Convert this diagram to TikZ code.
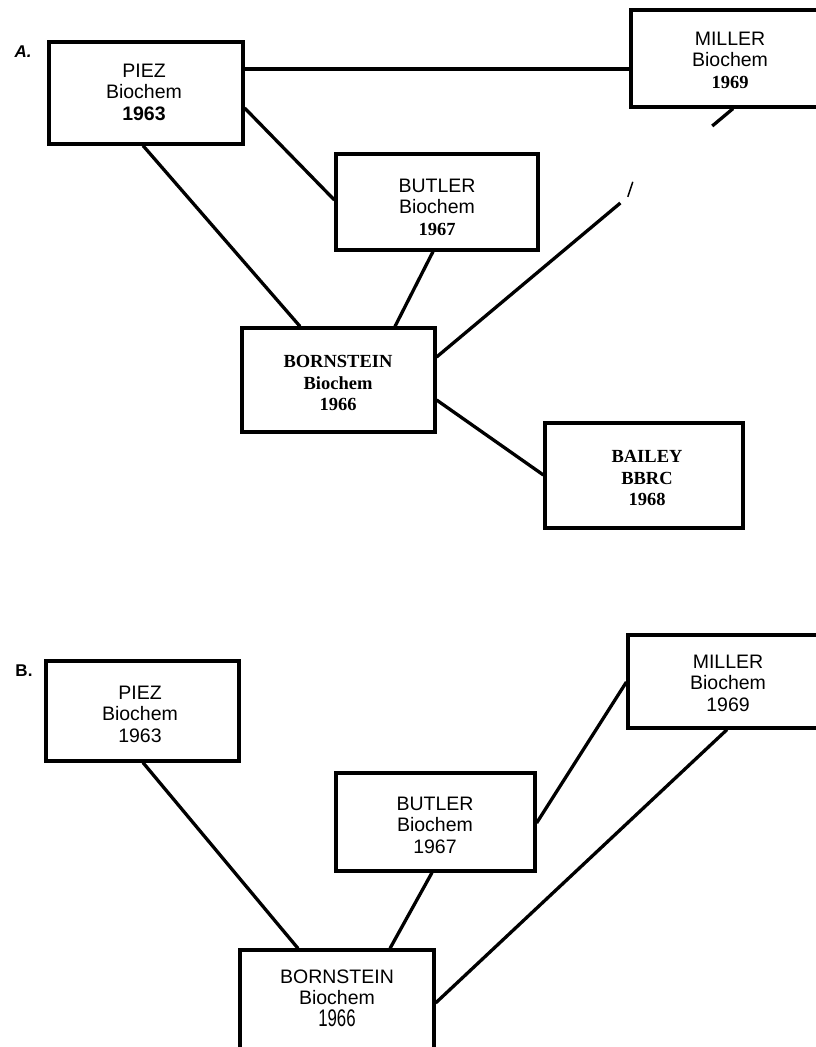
\documentclass[tikz,border=0pt]{standalone}
\usepackage{fontspec}
\setmainfont{Liberation Serif}
\setsansfont{Liberation Sans}
\usepackage{graphicx}
\usetikzlibrary{calc}
\tikzset{
  box/.style={draw, line width=3.2pt, inner sep=0pt},
  conn/.style={line width=3.3pt},
  txt/.style={align=center, inner sep=0pt, font=\sffamily\fontsize{19.5}{21.5}\selectfont},
  txtb/.style={align=center, inner sep=0pt, font=\rmfamily\bfseries\fontsize{18.5}{21.5}\selectfont},
  panel/.style={inner sep=0pt, font=\sffamily\bfseries\fontsize{17}{17}\selectfont},
}
\begin{document}
\begin{tikzpicture}[x=1pt,y=-1pt]
\useasboundingbox (0,0) rectangle (816,1047);
\clip (0,0) rectangle (816,1047);

% ---------- Panel A ----------
\node[panel] (labA) at (23,52) {\itshape A.};
\node[box, minimum width=194, minimum height=102] (piezA) at (146,93) {};
\node[txt] (piezAt) at (144,92) {PIEZ\\Biochem\\\textbf{1963}};
\node[box, minimum width=198, minimum height=97] (millerA) at (730,58.5) {};
\node[txt] (millerAt) at (730,60) {MILLER\\Biochem\\{\rmfamily\bfseries\fontsize{18.5}{21.5}\selectfont 1969}};
\node[box, minimum width=202, minimum height=96] (butlerA) at (437,202) {};
\node[txt] (butlerAt) at (437,207) {BUTLER\\Biochem\\{\rmfamily\bfseries\fontsize{18.5}{21.5}\selectfont 1967}};
\node[box, minimum width=193, minimum height=104] (bornA) at (338.5,380) {};
\node[txtb] (bornAt) at (338,383) {BORNSTEIN\\Biochem\\1966};
\node[box, minimum width=198, minimum height=105] (baileyA) at (644,475.5) {};
\node[txtb] (baileyAt) at (647,478) {BAILEY\\BBRC\\1968};

\draw[conn] (piezA.east |- 0,69) -- (millerA.west |- 0,69);
\draw[conn] (piezA.east |- 0,108) -- (butlerA.west |- 0,200);
\draw[conn] (piezA.south -| 143,0) -- (bornA.north -| 300,0);
\draw[conn] (butlerA.south -| 433,0) -- (bornA.north -| 395,0);
\coordinate (bmA1) at (bornA.east |- 0,357);
\coordinate (bmA2) at (millerA.south -| 733,0);
\draw[conn] (bmA1) -- ($(bmA1)!0.62!(bmA2)$);
\draw[conn] ($(bmA1)!0.93!(bmA2)$) -- (bmA2);
\coordinate (tick1) at ($(bmA1)!0.645!(bmA2)$);
\draw[line width=1.5pt] (tick1) -- ++(5,-15);
\draw[conn] (bornA.east |- 0,400) -- (baileyA.west |- 0,475);

% ---------- Panel B ----------
\node[panel] (labB) at (24,671) {B.};
\node[box, minimum width=193, minimum height=100] (piezB) at (142.5,711) {};
\node[txt] (piezBt) at (140,714) {PIEZ\\Biochem\\1963};
\node[box, minimum width=200, minimum height=93] (millerB) at (728,681.5) {};
\node[txt] (millerBt) at (728,683) {MILLER\\Biochem\\1969};
\node[box, minimum width=199, minimum height=98] (butlerB) at (435.5,822) {};
\node[txt] (butlerBt) at (435,825) {BUTLER\\Biochem\\1967};
\node[box, minimum width=194, minimum height=104] (bornB) at (337,1002) {};
\node[txt] (bornBt) at (337,998) {BORNSTEIN\\Biochem\\\scalebox{0.7}[1]{\fontseries{l}\fontsize{24}{21.5}\selectfont 1966}};

\draw[conn] (piezB.south -| 143,0) -- (bornB.north -| 298,0);
\draw[conn] (butlerB.south -| 432,0) -- (bornB.north -| 390,0);
\draw[conn] (butlerB.east |- 0,823) -- (millerB.west |- 0,682);
\draw[conn] (bornB.east |- 0,1003) -- (millerB.south -| 727,0);
\end{tikzpicture}
\end{document}
